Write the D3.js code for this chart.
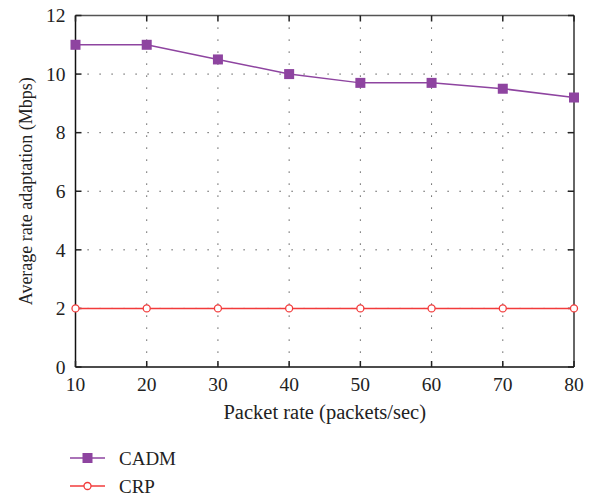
<!DOCTYPE html>
<html lang="en">
<head>
<meta charset="UTF-8">
<title>Average rate adaptation</title>
<script src="https://d3js.org/d3.v7.min.js"></script>
<style>
  body { margin: 0; background: #fff; }
</style>
</head>
<body>
<div id="chart"></div>
<script>
// data
const packetRates = [10, 20, 30, 40, 50, 60, 70, 80];
const cadm = [11, 11, 10.5, 10, 9.7, 9.7, 9.5, 9.2];
const crp = [2, 2, 2, 2, 2, 2, 2, 2];
const yTicks = [0, 2, 4, 6, 8, 10, 12];

const W = 595, H = 496;
const margin = {top: 15.5, right: 21, bottom: 129, left: 75.5};
const width = W - margin.left - margin.right,
      height = H - margin.top - margin.bottom;
const serif = "'Liberation Serif', 'Times New Roman', 'DejaVu Serif', serif";

const svg = d3.select("#chart").append("svg")
    .attr("width", W).attr("height", H)
    .style("font-family", serif);

const g = svg.append("g")
    .attr("transform", `translate(${margin.left},${margin.top})`);

const x = d3.scaleLinear().domain([10, 80]).range([0, width]);
const y = d3.scaleLinear().domain([0, 12]).range([height, 0]);

// dotted grid
g.selectAll("line.vgrid")
  .data(packetRates.slice(1, -1))
  .enter().append("line")
  .attr("x1", d => x(d)).attr("x2", d => x(d))
  .attr("y1", 0).attr("y2", height)
  .attr("stroke", "#333").attr("stroke-width", 1)
  .attr("stroke-dasharray", "1.2,10.8");

g.selectAll("line.hgrid")
  .data(yTicks.slice(1, -1))
  .enter().append("line")
  .attr("x1", 0).attr("x2", width)
  .attr("y1", d => y(d)).attr("y2", d => y(d))
  .attr("stroke", "#333").attr("stroke-width", 1)
  .attr("stroke-dasharray", "1.2,10.8");

// frame
g.append("line").attr("x1", 0).attr("x2", width).attr("y1", 0).attr("y2", 0)
  .attr("stroke", "#555").attr("stroke-width", 1.5);
g.append("line").attr("x1", width).attr("x2", width).attr("y1", 0).attr("y2", height)
  .attr("stroke", "#333").attr("stroke-width", 1.5);
g.append("line").attr("x1", 0).attr("x2", 0).attr("y1", 0).attr("y2", height)
  .attr("stroke", "#111").attr("stroke-width", 1.5);
g.append("line").attr("x1", 0).attr("x2", width).attr("y1", height).attr("y2", height)
  .attr("stroke", "#111").attr("stroke-width", 1.5);

// inward ticks
yTicks.forEach(t => {
  g.append("line").attr("x1", 0).attr("x2", 6).attr("y1", y(t)).attr("y2", y(t))
    .attr("stroke", "#222").attr("stroke-width", 1.5);
  g.append("line").attr("x1", width - 6).attr("x2", width).attr("y1", y(t)).attr("y2", y(t))
    .attr("stroke", "#222").attr("stroke-width", 1.5);
});
packetRates.forEach(t => {
  g.append("line").attr("x1", x(t)).attr("x2", x(t)).attr("y1", height).attr("y2", height - 6)
    .attr("stroke", "#222").attr("stroke-width", 1.5);
  g.append("line").attr("x1", x(t)).attr("x2", x(t)).attr("y1", 0).attr("y2", 6)
    .attr("stroke", "#222").attr("stroke-width", 1.5);
});

// tick labels
g.selectAll("text.ylab").data(yTicks).enter().append("text")
  .attr("font-size", 19.5).attr("fill", "#222")
  .attr("x", -10).attr("y", d => y(d)).attr("dy", "0.35em")
  .attr("text-anchor", "end").text(d => d);

g.selectAll("text.xlab").data(packetRates).enter().append("text")
  .attr("font-size", 19.5).attr("fill", "#222")
  .attr("x", d => x(d)).attr("y", height + 24)
  .attr("text-anchor", "middle").text(d => d);

// axis titles
g.append("text").attr("font-size", 20.5).attr("fill", "#222")
  .attr("x", width / 2).attr("y", height + 52)
  .attr("text-anchor", "middle").text("Packet rate (packets/sec)");

g.append("text").attr("font-size", 18).attr("fill", "#222")
  .attr("transform", `translate(${-44},${height / 2}) rotate(-90)`)
  .attr("text-anchor", "middle").text("Average rate adaptation (Mbps)");

// series
const purple = "#8e44a0", red = "#f23b3b";
const line = d3.line().x((d, i) => x(packetRates[i])).y(d => y(d));

g.append("path").datum(cadm)
  .attr("fill", "none").attr("stroke", purple).attr("stroke-width", 1.5)
  .attr("d", line);
g.selectAll("rect.cadm").data(cadm).enter().append("rect")
  .attr("x", (d, i) => x(packetRates[i]) - 5)
  .attr("y", d => y(d) - 5)
  .attr("width", 10).attr("height", 10)
  .attr("fill", purple);

g.append("path").datum(crp)
  .attr("fill", "none").attr("stroke", red).attr("stroke-width", 1.5)
  .attr("d", line);
g.selectAll("circle.crp").data(crp).enter().append("circle")
  .attr("cx", (d, i) => x(packetRates[i]))
  .attr("cy", d => y(d))
  .attr("r", 3.5)
  .attr("fill", "#fff").attr("stroke", red).attr("stroke-width", 1.3);

// legend
const legend = svg.append("g");
const items = [
  {name: "CADM", color: purple, y: 458, marker: "square"},
  {name: "CRP", color: red, y: 486, marker: "circle"}
];
items.forEach(it => {
  legend.append("line").attr("x1", 70).attr("x2", 105)
    .attr("y1", it.y).attr("y2", it.y)
    .attr("stroke", it.color).attr("stroke-width", 1.5);
  if (it.marker === "square") {
    legend.append("rect").attr("x", 82.5).attr("y", it.y - 5)
      .attr("width", 10).attr("height", 10).attr("fill", it.color);
  } else {
    legend.append("circle").attr("cx", 87.5).attr("cy", it.y).attr("r", 3.5)
      .attr("fill", "#fff").attr("stroke", it.color).attr("stroke-width", 1.3);
  }
  legend.append("text").attr("font-size", 19).attr("fill", "#222")
    .attr("x", 119).attr("y", it.y).attr("dy", "0.35em")
    .text(it.name);
});
</script>
</body>
</html>
